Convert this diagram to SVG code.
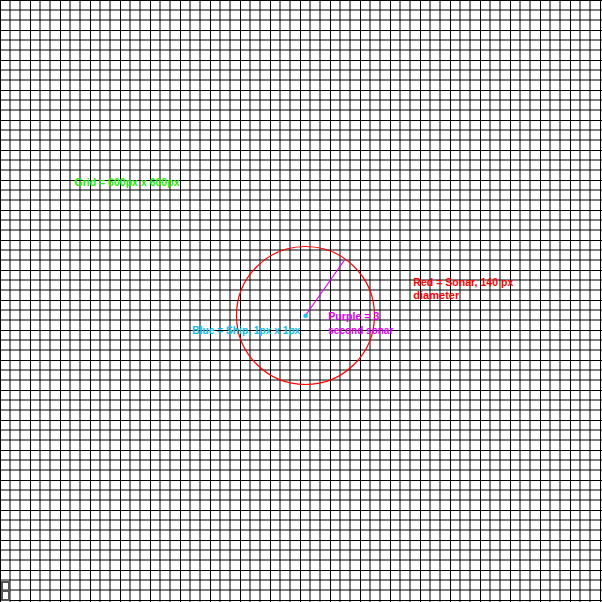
<svg xmlns="http://www.w3.org/2000/svg" width="602" height="602" viewBox="0 0 602 602">
<style>
.txt{font-family:"Liberation Sans",Arial,sans-serif;font-weight:bold;font-size:11px}
.gk{stroke:#000;stroke-width:1;fill:none}
</style>
<rect x="0" y="0" width="602" height="602" fill="#fff"/>
<g id="grid">
<path class="gk" d="M0.5 0V602M30.5 0V602M60.5 0V602M90.5 0V602M120.5 0V602M150.5 0V602M180.5 0V602M210.5 0V602M240.5 0V602M270.5 0V602M300.5 0V602M330.5 0V602M360.5 0V602M390.5 0V602M420.5 0V602M450.5 0V602M480.5 0V602M510.5 0V602M540.5 0V602M570.5 0V602M600.5 0V602
M0 0.5H602M0 30.5H602M0 60.5H602M0 90.5H602M0 120.5H602M0 150.5H602M0 180.5H602M0 210.5H602M0 240.5H602M0 270.5H602M0 300.5H602M0 330.5H602M0 360.5H602M0 390.5H602M0 420.5H602M0 450.5H602M0 480.5H602M0 510.5H602M0 540.5H602M0 570.5H602M0 600.5H602"/>
<path class="gk" d="M10 0V602M20 0V602M40 0V602M50 0V602M70 0V602M80 0V602M100 0V602M110 0V602M130 0V602M140 0V602M160 0V602M170 0V602M190 0V602M200 0V602M220 0V602M230 0V602M250 0V602M260 0V602M280 0V602M290 0V602M310 0V602M320 0V602M340 0V602M350 0V602M370 0V602M380 0V602M400 0V602M410 0V602M430 0V602M440 0V602M460 0V602M470 0V602M490 0V602M500 0V602M520 0V602M530 0V602M550 0V602M560 0V602M580 0V602M590 0V602
M0 10H602M0 20H602M0 40H602M0 50H602M0 70H602M0 80H602M0 100H602M0 110H602M0 130H602M0 140H602M0 160H602M0 170H602M0 190H602M0 200H602M0 220H602M0 230H602M0 250H602M0 260H602M0 280H602M0 290H602M0 310H602M0 320H602M0 340H602M0 350H602M0 370H602M0 380H602M0 400H602M0 410H602M0 430H602M0 440H602M0 460H602M0 470H602M0 490H602M0 500H602M0 520H602M0 530H602M0 550H602M0 560H602M0 580H602M0 590H602"/>
<rect x="2" y="582" width="7" height="18" fill="none" stroke="#555" stroke-width="2"/>
<line x1="2" y1="591" x2="9" y2="591" stroke="#555" stroke-width="2"/>
</g>
<g id="sonar">
<circle cx="305.5" cy="315.5" r="69" fill="none" stroke="#ff0000" stroke-width="1.2"/>
</g>
<g id="connectors">
<line x1="305.5" y1="315.5" x2="344.5" y2="260" stroke="#e000f0" stroke-width="1.2"/>
</g>
<g id="ship">
<circle cx="305.6" cy="315.7" r="2.3" fill="#10c8f0"/>
</g>
<g id="labels">
<text class="txt" x="74.5" y="186" fill="#22ee00" textLength="105" lengthAdjust="spacingAndGlyphs">Grid = 600px x 600px</text>
<text class="txt" x="192.3" y="334" fill="#10c0f0" textLength="108" lengthAdjust="spacingAndGlyphs">Blue = Ship, 1px x 1px</text>
<text class="txt" x="328.3" y="320" fill="#e000f0" textLength="51" lengthAdjust="spacingAndGlyphs">Purple = 3</text>
<text class="txt" x="328.3" y="334" fill="#e000f0" textLength="65" lengthAdjust="spacingAndGlyphs">second sonar</text>
<text class="txt" x="413.3" y="285.5" fill="#ff0000" textLength="100" lengthAdjust="spacingAndGlyphs">Red = Sonar, 140 px</text>
<text class="txt" x="413.3" y="298.5" fill="#ff0000" textLength="46" lengthAdjust="spacingAndGlyphs">diameter</text>
</g>
</svg>
